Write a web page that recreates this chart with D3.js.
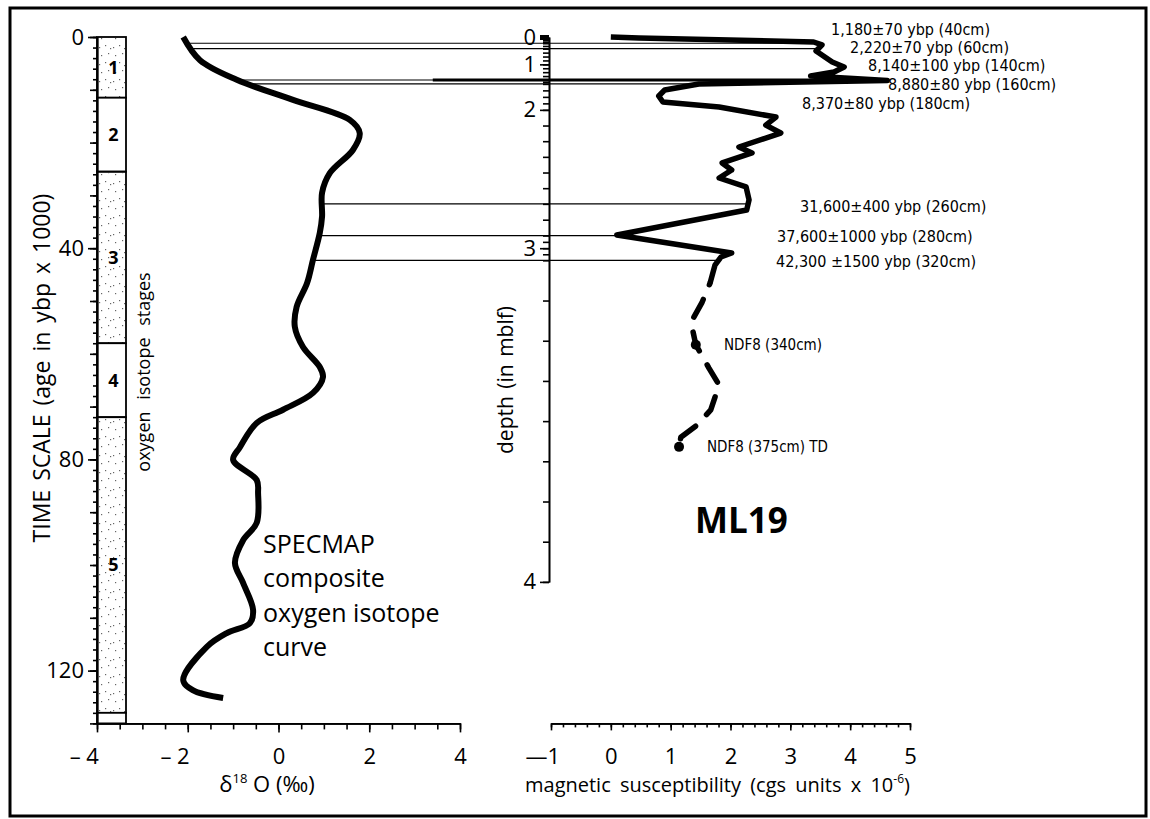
<!DOCTYPE html>
<html><head><meta charset="utf-8">
<script src="https://cdn.jsdelivr.net/npm/d3@7"></script>
<style>body{margin:0;background:#fff}svg{display:block}</style>
</head><body>
<svg id="chart" width="1150" height="819"></svg>
<script>
// ---------------- DATA ----------------
// SPECMAP composite oxygen isotope curve (age kyr, delta18O permil)
const specmapAge = [0, 4.4, 8.1, 11.9, 15.7, 18.2, 21.4, 25.8, 29.5, 34, 37.1, 42.2, 46.6, 51.1, 54.9, 58.7, 62.5, 64.4, 67.4, 70.6, 73.1, 77.7, 80.1, 83.9, 86.4, 92, 95.3, 99.6, 103.4, 108.5, 111, 112.9, 115.5, 121.8, 123.7, 125.2];
const specmapD18O = [-2.1, -1.73, -0.92, 0.32, 1.57, 1.79, 1.64, 1.13, 0.96, 0.96, 0.91, 0.76, 0.63, 0.4, 0.36, 0.54, 0.91, 0.98, 0.76, 0.1, -0.48, -0.85, -1.0, -0.48, -0.45, -0.48, -0.78, -0.96, -0.78, -0.56, -0.63, -1.14, -1.58, -2.1, -1.89, -1.22];

// ML19 magnetic susceptibility, measured part (depth m, cgs x 1e-6)
const magDepth = [0, 0.064, 0.32, 0.46, 0.658, 0.94, 1.068, 1.196, 1.298, 1.427, 1.602, 1.694, 1.786, 1.879, 1.956, 2.046, 2.097, 2.148, 2.237, 2.275, 2.339, 2.384, 2.435, 2.492, 2.575, 2.639, 2.797, 3.079, 3.145, 3.212, 3.256];
const magValue = [0, 0.47, 3.39, 3.53, 3.43, 3.70, 3.90, 3.73, 3.34, 4.62, 1.47, 0.90, 0.80, 0.87, 1.81, 2.76, 2.59, 2.84, 2.14, 2.36, 1.86, 2.02, 1.81, 2.26, 2.31, 2.27, 0.10, 2.02, 1.84, 1.74, 1.66];
// inferred (dashed) part
const magDashDepth = [3.256, 3.306, 3.354, 3.41, 3.468, 3.51, 3.572, 3.61, 3.64, 3.664];
const magDashValue = [1.66, 1.52, 1.34, 1.42, 1.64, 1.81, 1.67, 1.44, 1.17, 1.14];

// NDF8 points
const ndfDepth = [3.41, 3.664];
const ndfValue = [1.42, 1.14];
const ndfLabels = ["NDF8 (340cm)", "NDF8 (375cm) TD"];

// radiocarbon dates
const dateAge = [1.18, 2.22, 8.14, 8.88, 8.37, 31.6, 37.6, 42.3];
const dateDepth = [0.4, 0.6, 1.4, 1.6, 1.8, 2.6, 2.8, 3.2];
const dateLabels = ["1,180\u00B170 ybp (40cm)", "2,220\u00B170 ybp (60cm)", "8,140\u00B1100 ybp (140cm)", "8,880\u00B180 ybp (160cm)", "8,370\u00B180 ybp (180cm)", "31,600\u00B1400 ybp (260cm)", "37,600\u00B11000 ybp (280cm)", "42,300 \u00B11500 ybp (320cm)"];
const dateHasLine = [true, true, true, true, false, true, true, true];

// oxygen isotope stages (kyr boundaries)
const stageBounds = [0, 11.5, 25.5, 58, 72, 128, 130];
const stageLabels = ["1", "2", "3", "4", "5", ""];
const stageStippled = [true, false, true, false, true, false];

// depth axis: depth (m) tied to age (kyr) as drawn
const depthAxisDepth = [0, 0.4, 0.6, 1.4, 1.6, 2.0, 2.6, 2.8, 3.0, 3.2, 4.0];
const depthAxisAge = [0, 1.18, 2.22, 8.14, 8.88, 13.8, 31.6, 37.6, 40.0, 42.3, 103.2];

// ticks
const timeTicks = [0, 40, 80, 120];
const d18oTicks = [-4, -2, 0, 2, 4];
const magTicks = [-1, 0, 1, 2, 3, 4, 5];
const depthTicks = [0, 1, 2, 3, 4];

// ---------------- DRAW ----------------
const FONT = "'Open Sans', 'Noto Sans', sans-serif";
const FONT_C = "'DejaVu Sans Condensed', 'DejaVu Sans', sans-serif";
const svg = d3.select("#chart");
const axisY = 723.4;

const yT = d3.scaleLinear().domain([0, 130]).range([37, axisY]);
const xO = d3.scaleLinear().domain([-4, 4]).range([97, 460]);
const xM = d3.scaleLinear().domain([-1, 5]).range([551, 910]);
const yD = d3.scaleLinear().domain(depthAxisDepth).range(depthAxisAge.map(yT));
const specAt = d3.scaleLinear().domain(specmapAge).range(specmapD18O);
const magAt = d3.scaleLinear().domain(magDepth).range(magValue);

// frame
svg.append("rect").attr("x", 10).attr("y", 8).attr("width", 1136).attr("height", 808)
  .attr("fill", "none").attr("stroke", "#000").attr("stroke-width", 3);

// stipple pattern
const defs = svg.append("defs");
const pat = defs.append("pattern").attr("id", "stip").attr("patternUnits", "userSpaceOnUse")
  .attr("width", 14).attr("height", 17);
[[3, 4], [10, 2], [7, 11], [12, 14], [1, 13]].forEach(p =>
  pat.append("rect").attr("x", p[0]).attr("y", p[1]).attr("width", 1.2).attr("height", 1.2).attr("fill", "#666"));

// stage column
const colX0 = xO(-4), colX1 = 126;
const stages = d3.range(stageLabels.length).map(i => ({a: stageBounds[i], b: stageBounds[i + 1], l: stageLabels[i], s: stageStippled[i]}));
svg.append("g").selectAll("rect").data(stages).join("rect")
  .attr("x", colX0).attr("width", colX1 - colX0)
  .attr("y", d => yT(d.a)).attr("height", d => yT(d.b) - yT(d.a))
  .attr("fill", d => d.s ? "url(#stip)" : "#fff")
  .attr("stroke", "#000").attr("stroke-width", 1.8);
svg.append("g").selectAll("text").data(stages.filter(d => d.l)).join("text")
  .attr("x", (colX0 + colX1) / 2 + 2).attr("y", d => yT((d.a + d.b) / 2))
  .attr("dy", "0.35em").attr("text-anchor", "middle")
  .attr("font-family", FONT).attr("font-weight", "bold").attr("font-size", 18)
  .text(d => d.l);

function styleAxis(g, fs) {
  g.selectAll("path,line").attr("stroke", "#000").attr("stroke-width", 1.6);
  g.selectAll("text").attr("font-family", FONT).attr("font-size", fs).attr("fill", "#000");
}

// time axis
const gTmin = svg.append("g").attr("transform", `translate(${colX0},0)`)
  .call(d3.axisLeft(yT).tickValues(d3.range(0, 131, 2)).tickSize(4).tickSizeOuter(0).tickFormat(""));
styleAxis(gTmin, 10);
const gTmid = svg.append("g").attr("transform", `translate(${colX0},0)`)
  .call(d3.axisLeft(yT).tickValues(d3.range(0, 131, 10)).tickSize(7).tickSizeOuter(0).tickFormat(""));
styleAxis(gTmid, 10);
const gT = svg.append("g").attr("transform", `translate(${colX0},0)`)
  .call(d3.axisLeft(yT).tickValues(timeTicks).tickSize(9).tickPadding(4).tickSizeOuter(0).tickFormat(d3.format("d")));
styleAxis(gT, 22);

// delta18O axis
const gOmin = svg.append("g").attr("transform", `translate(0,${axisY})`)
  .call(d3.axisBottom(xO).tickValues(d3.range(-4, 4.01, 0.5)).tickSize(6).tickSizeOuter(0).tickFormat(""));
styleAxis(gOmin, 10);
const gO = svg.append("g").attr("transform", `translate(0,${axisY})`)
  .call(d3.axisBottom(xO).tickValues(d18oTicks).tickSize(9).tickPadding(16).tickSizeOuter(0)
    .tickFormat(d => d < 0 ? "\u2013  " + Math.abs(d) : String(d)));
styleAxis(gO, 22);
gO.selectAll(".tick text").attr("dx", d => d < 0 ? "-0.6em" : 0);

// magnetic susceptibility axis
const gMmin = svg.append("g").attr("transform", `translate(0,${axisY})`)
  .call(d3.axisBottom(xM).tickValues(d3.range(-1, 5.001, 0.2)).tickSize(4).tickSizeOuter(0).tickFormat(""));
styleAxis(gMmin, 10);
const gM = svg.append("g").attr("transform", `translate(0,${axisY})`)
  .call(d3.axisBottom(xM).tickValues(magTicks).tickSize(7).tickPadding(18).tickSizeOuter(0)
    .tickFormat(d => d < 0 ? "\u2014" + Math.abs(d) : String(d)));
styleAxis(gM, 22);
gM.selectAll(".tick text").attr("dx", d => d < 0 ? "-0.4em" : 0);

// depth axis
const depthX = 549;
const gDmin = svg.append("g").attr("transform", `translate(${depthX},0)`)
  .call(d3.axisLeft(yD).tickValues(d3.range(0, 4.001, 0.1)).tickSize(6).tickSizeOuter(0).tickFormat(""));
styleAxis(gDmin, 10);
const gD = svg.append("g").attr("transform", `translate(${depthX},0)`)
  .call(d3.axisLeft(yD).tickValues(depthTicks).tickSize(9).tickPadding(4).tickSizeOuter(0).tickFormat(d3.format("d")));
styleAxis(gD, 22);
gD.selectAll(".tick line").filter(d => d === 0).attr("stroke-width", 5);

// correlation lines
const dates = dateAge.map((a, i) => ({a, d: dateDepth[i], l: dateLabels[i], line: dateHasLine[i], i}));
const withLine = dates.filter(d => d.line);
svg.append("g").selectAll("line").data(withLine).join("line")
  .attr("x1", d => xO(specAt(d.a))).attr("x2", d => xM(magAt(d.d)))
  .attr("y1", d => yT(d.a)).attr("y2", d => yT(d.a))
  .attr("stroke", "#000").attr("stroke-width", 1.2);
// heavier overdraw on the 140 cm tie line where it crosses to the core
svg.append("g").selectAll("line").data(withLine.filter(d => d.d === 1.4)).join("line")
  .attr("x1", xO(3.4)).attr("x2", d => xM(magAt(d.d)))
  .attr("y1", d => yT(d.a)).attr("y2", d => yT(d.a))
  .attr("stroke", "#000").attr("stroke-width", 3.2);

// SPECMAP curve
const specPts = specmapAge.map((a, i) => [xO(specmapD18O[i]), yT(a)]);
svg.append("path").attr("d", d3.line().curve(d3.curveCatmullRom.alpha(0.5))(specPts))
  .attr("fill", "none").attr("stroke", "#000").attr("stroke-width", 6)
  .attr("stroke-linejoin", "round").attr("stroke-linecap", "butt");

// magnetic susceptibility curve
const magPts = magDepth.map((d, i) => [xM(magValue[i]), yD(d)]);
svg.append("path").attr("d", d3.line()(magPts))
  .attr("fill", "none").attr("stroke", "#000").attr("stroke-width", 5.5)
  .attr("stroke-linejoin", "round").attr("stroke-linecap", "butt");
const dashPts = magDashDepth.map((d, i) => [xM(magDashValue[i]), yD(d)]);
svg.append("path").attr("d", d3.line()(dashPts))
  .attr("fill", "none").attr("stroke", "#000").attr("stroke-width", 5.5)
  .attr("stroke-dasharray", "20,16").attr("stroke-dashoffset", -18)
  .attr("stroke-linejoin", "round").attr("stroke-linecap", "round");
svg.append("g").selectAll("circle").data(ndfDepth).join("circle")
  .attr("cx", (d, i) => xM(ndfValue[i])).attr("cy", d => yD(d)).attr("r", 5).attr("fill", "#000");
const ndfLabelX = [724, 707];
svg.append("g").selectAll("text").data(ndfLabels).join("text")
  .attr("x", (d, i) => ndfLabelX[i]).attr("y", (d, i) => yD(ndfDepth[i])).attr("dy", "0.35em")
  .attr("font-family", FONT_C).attr("font-size", 15).text(d => d);

// date labels
const dateLabelX = [831, 850, 868, 888, 802, 800, 777, 776];
const dateLabelY = [29, 47, 65, 84, 103, 206, 236, 261];
svg.append("g").selectAll("text").data(dates).join("text")
  .attr("x", d => dateLabelX[d.i]).attr("y", d => dateLabelY[d.i]).attr("dy", "0.35em")
  .attr("font-family", FONT_C).attr("font-size", 16).text(d => d.l);

// titles
function rotText(x, y, txt, fs, ws) {
  svg.append("text").attr("transform", `translate(${x},${y}) rotate(-90)`)
    .attr("text-anchor", "middle").attr("font-family", FONT).attr("font-size", fs)
    .attr("word-spacing", ws || 0).text(txt);
}
rotText(50, 368, "TIME SCALE (age in ybp x 1000)", 23, 3);
rotText(150, 372, "oxygen isotope stages", 18, 7);
rotText(513, 380, "depth (in mblf)", 21, 2);

const dT = svg.append("text").attr("x", 267).attr("y", 792).attr("text-anchor", "middle")
  .attr("font-family", FONT).attr("font-size", 22);
dT.append("tspan").text("\u03B4");
dT.append("tspan").attr("font-size", 13).attr("dy", -9).text("18");
dT.append("tspan").attr("dy", 9).text(" O (\u2030)");

const mT = svg.append("text").attr("x", 525).attr("y", 792)
  .attr("font-family", FONT).attr("font-size", 20).attr("word-spacing", 4);
mT.append("tspan").text("magnetic susceptibility (cgs units x 10");
mT.append("tspan").attr("font-size", 12).attr("dy", -9).text("-6");
mT.append("tspan").attr("dy", 9).text(")");

const specLines = ["SPECMAP", "composite", "oxygen isotope", "curve"];
svg.append("g").selectAll("text").data(specLines).join("text")
  .attr("x", 263).attr("y", (d, i) => 553 + i * 34.3)
  .attr("font-family", FONT).attr("font-size", 25).text(d => d);

svg.append("text").attr("x", 695).attr("y", 533).attr("font-family", FONT)
  .attr("font-weight", "bold").attr("font-size", 35).text("ML19");
</script>
</body></html>
